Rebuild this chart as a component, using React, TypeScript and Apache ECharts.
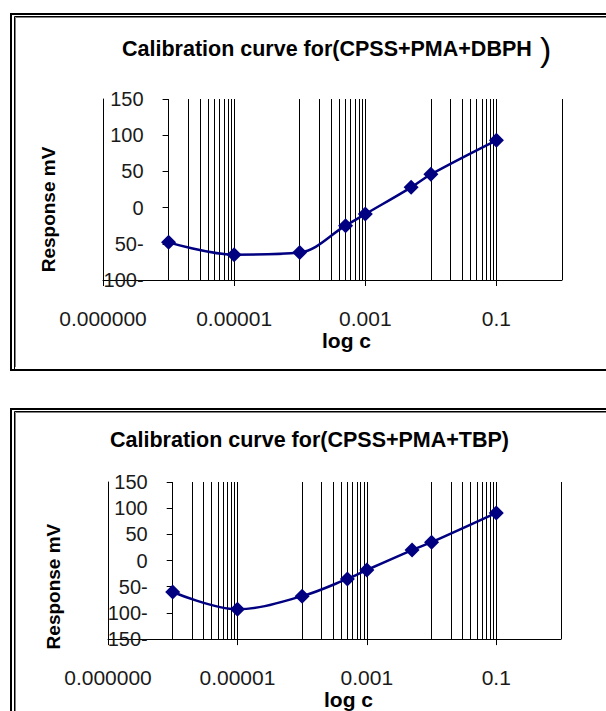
import React, { useEffect, useRef } from 'react';
import * as echarts from 'echarts';

// ---- data ----
const concentrations = [1e-6, 1e-5, 1e-4, 5e-4, 1e-3, 5e-3, 1e-2, 1e-1];
const dbphResponse = [-48, -65, -62, -25, -9, 28, 46, 93];
const tbpResponse = [-60, -93, -68, -35, -18, 20, 35, 91];

const xTickValues = [1e-7, 1e-5, 1e-3, 1e-1];
const xTickLabels = ['0.000000', '0.00001', '0.001', '0.1'];
const decadeGridValues = [1e-6, 1e-5, 1e-4, 1e-3, 1e-2, 1e-1, 1];
const minorGridDecades = [1e-6, 1e-4, 1e-2];
const minorMultipliers = [2, 3, 4, 5, 6, 7, 8, 9];

const title1 = 'Calibration curve for(CPSS+PMA+DBPH';
const title1Close = ')';
const title2 = 'Calibration curve for(CPSS+PMA+TBP)';
const xName = 'log c';
const yName = 'Response mV';

const FONT = '"Liberation Sans", Arial, sans-serif';
const NAVY = '#000080';

const gridLineValues = [
  ...decadeGridValues,
  ...minorGridDecades.flatMap((d) => minorMultipliers.map((m) => m * d)),
];

const xLabelFormatter = (v: number) => {
  const e = Math.round(Math.log10(v));
  const i = xTickValues.findIndex((t) => Math.round(Math.log10(t)) === e);
  return i >= 0 ? xTickLabels[i] : '';
};
const yLabelFormatter = (v: number) => (v < 0 ? `${-v}-` : `${v}`);

type PanelCfg = {
  idx: number;
  left: number;
  top: number;
  width: number;
  height: number;
  yMin: number;
  yMax: number;
  values: number[];
  yNameShift: number;
  xNameGap: number;
};

function buildPanel(p: PanelCfg) {
  const grid = { left: p.left, top: p.top, width: p.width, height: p.height, containLabel: false };
  const xAxis = {
    type: 'log',
    logBase: 10,
    gridIndex: p.idx,
    min: 1e-7,
    max: 1,
    axisLine: { show: true, onZero: false, lineStyle: { color: '#000', width: 1 } },
    axisTick: { show: true, customValues: xTickValues, length: 6, lineStyle: { color: '#000' } },
    axisLabel: {
      customValues: xTickValues,
      formatter: xLabelFormatter,
      margin: 28,
      fontSize: 21,
      color: '#1a1a1a',
      fontFamily: FONT,
    },
    splitLine: { show: false },
    name: xName,
    nameLocation: 'middle',
    nameGap: p.xNameGap,
    nameTextStyle: {
      fontWeight: 'bold',
      fontSize: 21,
      color: '#000',
      fontFamily: FONT,
      padding: [0, 0, 0, 28],
    },
  };
  const yLine = {
    type: 'value',
    gridIndex: p.idx,
    min: p.yMin,
    max: p.yMax,
    interval: 50,
    position: 'left',
    axisLine: { show: true, onZero: false, lineStyle: { color: '#000', width: 1 } },
    axisTick: { show: false },
    axisLabel: { show: false },
    splitLine: { show: false },
    name: yName,
    nameLocation: 'middle',
    nameGap: 45,
    nameRotate: 90,
    nameTextStyle: {
      fontWeight: 'bold',
      fontSize: 19,
      color: '#000',
      fontFamily: FONT,
      padding: [0, p.yNameShift * 2, 0, 0],
    },
  };
  const yLabels = {
    type: 'value',
    gridIndex: p.idx,
    min: p.yMin,
    max: p.yMax,
    interval: 50,
    position: 'left',
    offset: -p.width / 7,
    axisLine: { show: false, onZero: false },
    axisTick: { show: true, length: 6, lineStyle: { color: '#000' } },
    axisLabel: {
      formatter: yLabelFormatter,
      margin: 25,
      fontSize: 20,
      color: '#1a1a1a',
      fontFamily: FONT,
    },
    splitLine: { show: false },
  };
  const gridSeries = {
    type: 'line',
    xAxisIndex: p.idx,
    yAxisIndex: p.idx * 2,
    data: [],
    silent: true,
    z: 1,
    markLine: {
      silent: true,
      precision: 12,
      symbol: ['none', 'none'],
      label: { show: false },
      lineStyle: { color: '#000', width: 1, type: 'solid' },
      emphasis: { disabled: true },
      data: gridLineValues.map((v) => ({ xAxis: v })),
    },
  };
  const dataSeries = {
    type: 'line',
    xAxisIndex: p.idx,
    yAxisIndex: p.idx * 2,
    data: concentrations.map((c, i) => [c, p.values[i]]),
    smooth: 0.35,
    symbol: 'diamond',
    symbolSize: 15,
    lineStyle: { color: NAVY, width: 2.5 },
    itemStyle: { color: NAVY },
    z: 5,
  };
  return { grid, xAxis, yAxes: [yLine, yLabels], series: [gridSeries, dataSeries] };
}

export default function App() {
  const ref = useRef<HTMLDivElement>(null);
  useEffect(() => {
    document.body.style.margin = '0';
    if (!ref.current) return;
    const chart = echarts.init(ref.current, undefined, { renderer: 'svg' });
    const p1 = buildPanel({
      idx: 0, left: 103, top: 99, width: 459, height: 181,
      yMin: -100, yMax: 150, values: dbphResponse, yNameShift: 20, xNameGap: 40,
    });
    const p2 = buildPanel({
      idx: 1, left: 108, top: 482, width: 453, height: 159,
      yMin: -150, yMax: 150, values: tbpResponse, yNameShift: 26, xNameGap: 35,
    });
    const frame = (top: number, h: number) => [
      { type: 'rect', silent: true, shape: { x: 11, y: top + 1, width: 700, height: h }, style: { fill: 'none', stroke: '#000', lineWidth: 2 } },
      { type: 'rect', silent: true, shape: { x: 14.5, y: top + 3.5, width: 700, height: h - 3 }, style: { fill: 'none', stroke: '#000', lineWidth: 1 } },
      { type: 'polyline', silent: true, shape: { points: [[15.5, top + h - 2], [15.5, top + 4.5], [700, top + 4.5]] }, style: { fill: 'none', stroke: '#808080', lineWidth: 1 } },
    ];
    chart.setOption({
      animation: false,
      backgroundColor: '#fff',
      title: [
        { text: title1, left: 122, top: 38, padding: 0, textStyle: { fontSize: 21.5, fontWeight: 'bold', fontFamily: FONT, color: '#000' } },
        { text: title2, left: 110, top: 429, padding: 0, textStyle: { fontSize: 21.5, fontWeight: 'bold', fontFamily: FONT, color: '#000' } },
      ],
      graphic: [
        ...frame(13, 356),
        ...frame(408, 400),
        { type: 'text', silent: true, x: 540, y: 49, style: { text: title1Close, font: `34px ${FONT}`, fill: '#000', verticalAlign: 'middle', align: 'left' } },
      ],
      grid: [p1.grid, p2.grid],
      xAxis: [p1.xAxis, p2.xAxis],
      yAxis: [...p1.yAxes, ...p2.yAxes],
      series: [...p1.series, ...p2.series],
    });
    return () => chart.dispose();
  }, []);
  return <div ref={ref} style={{ position: 'absolute', left: 0, top: 0, width: 606, height: 711 }} />;
}
